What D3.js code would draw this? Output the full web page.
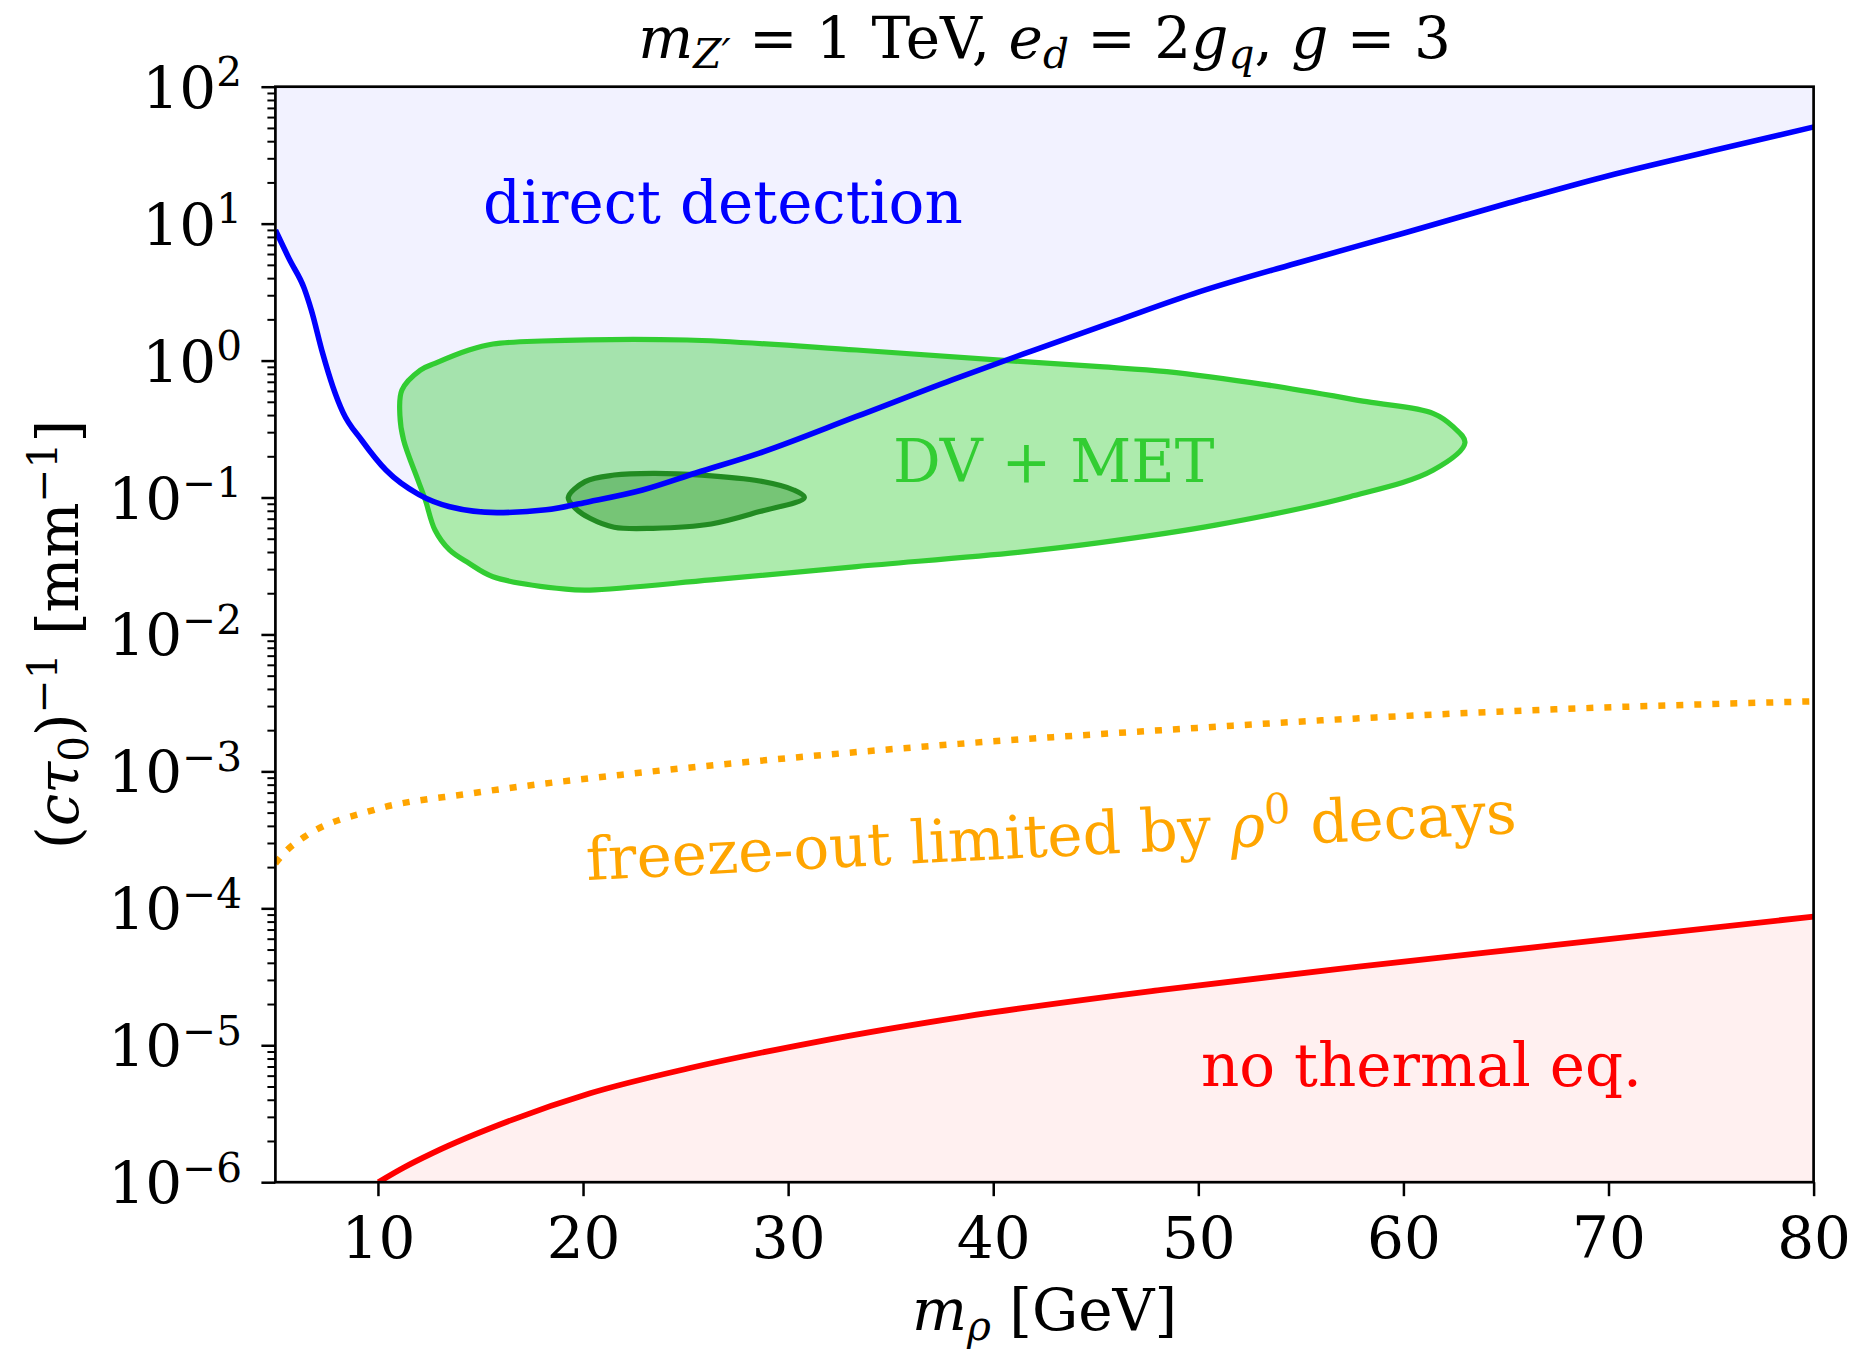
<!DOCTYPE html>
<html>
<head>
<meta charset="utf-8">
<script src="https://cdn.jsdelivr.net/npm/d3@7"></script>
<style>
  html, body { margin: 0; padding: 0; background: #fff; }
  text { font-family: "DejaVu Serif", serif; }
</style>
</head>
<body>
<svg id="chart" width="1861" height="1350"></svg>
<script>
// direct detection limit: m_rho [GeV] vs (c tau_0)^-1 [1/mm]
const ddMass = [5, 5.7, 6.4, 6.75, 7.3, 7.8, 8.3, 9.2, 10.4, 12, 13.5, 15.8, 18.2, 20.3, 22.9, 25.5, 28.6, 33.3, 38, 42, 46, 50, 55, 60, 65, 70, 75, 80];
const ddRate = [8.97, 5.42, 3.38, 2.34, 1.135, 0.646, 0.417, 0.263, 0.158, 0.105, 0.0857, 0.0776, 0.0813, 0.0933, 0.1135, 0.151, 0.211, 0.389, 0.724, 1.194, 1.95, 3.16, 5.25, 8.51, 13.96, 22.4, 33.9, 50.8];

// DV + MET reach, outer contour (closed)
const dvOuterMass = [11.07, 11.17, 12.07, 12.78, 14.44, 15.61, 17.98, 25.07, 33.34, 40.33, 45.2, 48.46, 53.33, 58.21, 61.44, 62.42, 63.0, 61.44, 57.39, 50.9, 45.2, 41.2, 33.34, 26.25, 20.34, 19.16, 15.61, 14.44, 13.49, 12.78, 12.31, 11.95, 11.25];
const dvOuterRate = [0.398, 0.610, 0.853, 0.955, 1.194, 1.321, 1.390, 1.413, 1.194, 1.007, 0.902, 0.830, 0.664, 0.501, 0.412, 0.329, 0.251, 0.158, 0.1014, 0.0631, 0.0468, 0.0398, 0.0313, 0.0250, 0.0211, 0.0214, 0.0264, 0.0331, 0.0414, 0.0579, 0.0959, 0.134, 0.263];

// DV + MET reach, inner contour (closed)
const dvInnerMass = [19.28, 20.1, 21.52, 23.41, 25.78, 28.61, 30.27, 30.79, 28.61, 26.25, 23.41, 21.52, 20.34, 19.63];
const dvInnerRate = [0.0998, 0.1306, 0.1459, 0.1503, 0.1459, 0.1321, 0.1135, 0.0998, 0.0789, 0.0641, 0.0596, 0.0607, 0.0705, 0.0834];

// freeze-out limited by rho^0 decays
const foMass = [5, 5.58, 6.42, 9.78, 14.59, 21.8, 29.0, 38.6, 48.2, 57.8, 67.4, 80];
const foRate = [2.13e-4, 2.67e-4, 3.33e-4, 5.22e-4, 6.92e-4, 9.42e-4, 1.21e-3, 1.60e-3, 2.00e-3, 2.44e-3, 2.84e-3, 3.25e-3];

// no thermal equilibrium
const ntMass = [10.02, 11.22, 12.66, 16.51, 20.35, 25.16, 31.4, 38.6, 48.2, 57.82, 67.44, 80];
const ntRate = [1.0e-6, 1.27e-6, 1.63e-6, 2.84e-6, 4.46e-6, 6.79e-6, 1.06e-5, 1.62e-5, 2.54e-5, 3.75e-5, 5.40e-5, 8.7e-5];

const xTicks = [10, 20, 30, 40, 50, 60, 70, 80];
const yExponents = [-6, -5, -4, -3, -2, -1, 0, 1, 2];

const FS = 58;      // axes text
const LABEL_FS = 59.5;  // in-plot labels

const svg = d3.select('#chart');
const x = d3.scaleLinear().domain([5, 80]).range([275.4, 1813.6]);
const y = d3.scaleLog().domain([1e-6, 1e2]).range([1182.2, 86.7]);

const zip = (ms, rs) => ms.map((m, i) => ({m: m, r: rs[i]}));

svg.append('defs').append('clipPath').attr('id', 'plotClip')
    .append('rect')
        .attr('x', x(5)).attr('y', y(1e2))
        .attr('width', x(80) - x(5))
        .attr('height', y(1e-6) - y(1e2));

const plot = svg.append('g').attr('clip-path', 'url(#plotClip)');

const lineGen = d3.line().x(d => x(d.m)).y(d => y(d.r)).curve(d3.curveMonotoneX);
const loopGen = d3.line().x(d => x(d.m)).y(d => y(d.r)).curve(d3.curveCatmullRomClosed.alpha(0.5));

// shaded regions
plot.append('path')
    .datum(zip(ddMass, ddRate))
    .attr('d', d3.area().x(d => x(d.m)).y0(y(1e2)).y1(d => y(d.r)).curve(d3.curveMonotoneX))
    .attr('fill', 'blue').attr('fill-opacity', 0.05);

plot.append('path')
    .datum(zip(ntMass, ntRate))
    .attr('d', d3.area().x(d => x(d.m)).y0(y(1e-6)).y1(d => y(d.r)).curve(d3.curveMonotoneX))
    .attr('fill', 'red').attr('fill-opacity', 0.06);

plot.append('path')
    .datum(zip(dvOuterMass, dvOuterRate))
    .attr('d', loopGen)
    .attr('fill', 'limegreen').attr('fill-opacity', 0.4)
    .attr('stroke', 'limegreen').attr('stroke-width', 5.2);

plot.append('path')
    .datum(zip(dvInnerMass, dvInnerRate))
    .attr('d', loopGen)
    .attr('fill', 'forestgreen').attr('fill-opacity', 0.4)
    .attr('stroke', 'forestgreen').attr('stroke-width', 5.2);

// lines
plot.append('path')
    .datum(zip(foMass, foRate))
    .attr('d', lineGen)
    .attr('fill', 'none')
    .attr('stroke', 'orange')
    .attr('stroke-width', 6.5)
    .attr('stroke-dasharray', '7,11');

plot.append('path')
    .datum(zip(ddMass, ddRate))
    .attr('d', lineGen)
    .attr('fill', 'none').attr('stroke', 'blue').attr('stroke-width', 5.6);

plot.append('path')
    .datum(zip(ntMass, ntRate))
    .attr('d', lineGen)
    .attr('fill', 'none').attr('stroke', 'red').attr('stroke-width', 5.8);

// rich text helper: parts = [{t, it, sub, sup}]
function richText(sel, parts, size) {
    let level = 0;
    parts.forEach(p => {
        const target = p.sub ? 0.17 : (p.sup ? -0.37 : 0);
        const ts = sel.append('tspan').text(p.t);
        const dy = (target - level) * size;
        if (dy) ts.attr('dy', dy);
        level = target;
        if (p.it) ts.attr('font-style', 'italic');
        if (p.sub || p.sup) ts.attr('font-size', size * 0.7);
    });
    return sel;
}

// region labels
svg.append('text')
    .attr('x', 483).attr('y', 223)
    .attr('font-size', LABEL_FS).attr('fill', 'blue')
    .text('direct detection');

svg.append('text')
    .attr('x', 893).attr('y', 482)
    .attr('font-size', LABEL_FS).attr('fill', 'limegreen')
    .text('DV + MET');

richText(svg.append('text')
    .attr('transform', 'translate(587,880) rotate(-2.9)')
    .attr('font-size', LABEL_FS).attr('fill', 'orange'),
    [{t: 'freeze-out limited by '}, {t: 'ρ', it: true}, {t: '0', sup: true}, {t: ' decays'}], LABEL_FS);

svg.append('text')
    .attr('x', 1201).attr('y', 1086)
    .attr('font-size', LABEL_FS).attr('fill', 'red')
    .text('no thermal eq.');

// x axis
const xAxisG = svg.append('g')
    .attr('transform', `translate(0,${y(1e-6)})`)
    .call(d3.axisBottom(x).tickValues(xTicks).tickSize(14).tickPadding(21).tickFormat(d3.format('d')));
xAxisG.select('.domain').remove();
xAxisG.attr('font-family', '"DejaVu Serif", serif').attr('font-size', FS);
xAxisG.selectAll('line').attr('stroke', 'black').attr('stroke-width', 2.5);
xAxisG.selectAll('text').attr('fill', 'black');

// y axis, major + minor ticks
const yMinor = [];
yExponents.slice(0, -1).forEach(k => d3.range(2, 10).forEach(j => yMinor.push(j * Math.pow(10, k))));

const yMinorG = svg.append('g')
    .attr('transform', `translate(${x(5)},0)`)
    .call(d3.axisLeft(y).tickValues(yMinor).tickSize(8).tickFormat(() => ''));
yMinorG.select('.domain').remove();
yMinorG.selectAll('line').attr('stroke', 'black').attr('stroke-width', 2);

const yMajorG = svg.append('g')
    .attr('transform', `translate(${x(5)},0)`)
    .call(d3.axisLeft(y).tickValues(yExponents.map(k => Math.pow(10, k))).tickSize(14).tickFormat(() => ''));
yMajorG.select('.domain').remove();
yMajorG.selectAll('line').attr('stroke', 'black').attr('stroke-width', 2.5);

svg.append('g')
    .selectAll('text')
    .data(yExponents)
    .enter()
    .append('text')
        .attr('x', 242)
        .attr('y', k => y(Math.pow(10, k)) + 21)
        .attr('text-anchor', 'end')
        .attr('font-size', FS)
        .each(function(k) {
            richText(d3.select(this), [{t: '10'}, {t: k < 0 ? '−' + (-k) : String(k), sup: true}], FS);
        });

// frame
svg.append('rect')
    .attr('x', x(5)).attr('y', y(1e2))
    .attr('width', x(80) - x(5))
    .attr('height', y(1e-6) - y(1e2))
    .attr('fill', 'none').attr('stroke', 'black').attr('stroke-width', 2.7);

// title and axis labels
richText(svg.append('text')
    .attr('x', (x(5) + x(80)) / 2).attr('y', 58)
    .attr('text-anchor', 'middle').attr('font-size', FS),
    [{t: 'm', it: true}, {t: 'Z′', it: true, sub: true}, {t: ' = 1 TeV, '},
     {t: 'e', it: true}, {t: 'd', it: true, sub: true}, {t: ' = 2'},
     {t: 'g', it: true}, {t: 'q', it: true, sub: true}, {t: ', '},
     {t: 'g', it: true}, {t: ' = 3'}], FS);

richText(svg.append('text')
    .attr('x', (x(5) + x(80)) / 2).attr('y', 1330)
    .attr('text-anchor', 'middle').attr('font-size', FS),
    [{t: 'm', it: true}, {t: 'ρ', it: true, sub: true}, {t: ' [GeV]'}], FS);

richText(svg.append('text')
    .attr('transform', `translate(78,${(y(1e2) + y(1e-6)) / 2}) rotate(-90)`)
    .attr('text-anchor', 'middle').attr('font-size', FS),
    [{t: '('}, {t: 'cτ', it: true}, {t: '0', sub: true}, {t: ')'}, {t: '−1', sup: true},
     {t: ' [mm'}, {t: '−1', sup: true}, {t: ']'}], FS);
</script>
</body>
</html>
